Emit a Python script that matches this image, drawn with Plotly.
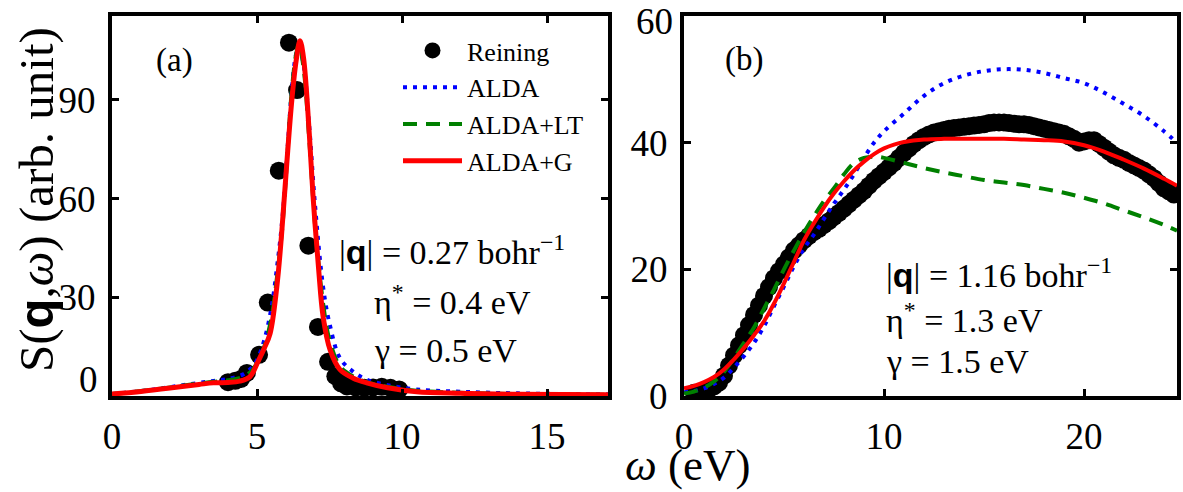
import plotly.graph_objects as go

# ---------------- Panel (a): |q| = 0.27 bohr^-1 ----------------
a_reining_w = [4.0, 4.25, 4.45, 4.65, 5.07, 5.37, 5.75, 6.1, 6.38, 6.77, 7.1, 7.45,
               7.7, 7.9, 8.1, 8.4, 8.7, 9.0, 9.3, 9.6, 9.9]
a_reining_s = [4.2, 4.6, 5.2, 7.0, 12.5, 28.4, 68.5, 107.4, 93.0, 45.7, 21.0, 10.4,
               6.0, 3.8, 2.9, 2.6, 2.5, 2.6, 2.8, 2.5, 2.0]

a_alda_w = [0, 1, 2, 3, 3.5, 4, 4.5, 4.8, 5.0, 5.25, 5.5, 5.7, 5.88, 6.05, 6.2, 6.35,
            6.45, 6.6, 6.8, 7.0, 7.28, 7.5, 7.86, 8.3, 8.78, 9.5, 10.5, 12, 14, 17.1]
a_alda_s = [0.6, 1.5, 2.7, 4.0, 4.6, 5.2, 6.5, 8.5, 11, 17, 27, 40, 54.5, 75, 93, 104,
            106, 101, 82, 58, 33, 22, 11.5, 7.5, 5, 3.3, 2, 1.3, 0.8, 0.5]

a_lt_w = a_alda_w
a_lt_s = [0.6, 1.5, 2.6, 3.8, 4.3, 4.8, 5.8, 7.5, 10, 15, 24, 37, 52, 74, 93, 104,
          107, 100, 78, 52, 28, 17, 9, 6, 4.2, 2.8, 1.6, 1.0, 0.6, 0.4]

a_g_w = [0, 1, 2, 3, 3.5, 4.0, 4.4, 4.76, 5.03, 5.25, 5.45, 5.68, 5.85, 6.02, 6.2,
         6.35, 6.48, 6.6, 6.8, 6.94, 7.12, 7.28, 7.52, 7.86, 8.3, 8.78, 9.5, 10.5,
         12, 14, 17.1]
a_g_s = [0.6, 1.4, 2.4, 3.5, 4.0, 4.1, 4.5, 5.9, 10.4, 14.5, 19, 33, 49.5, 70, 90,
         102, 108, 103, 80, 59.6, 39, 24, 14, 8, 5.5, 4, 2.5, 1.3, 0.8, 0.5, 0.4]

# ---------------- Panel (b): |q| = 1.16 bohr^-1 ----------------
b_reining_w = [0.5, 0.75, 1.0, 1.25, 1.5, 1.75, 2.0, 2.25, 2.5, 2.75, 3.0, 3.25, 3.5,
               3.75, 4.0, 4.25, 4.5, 4.75, 5.0, 5.25, 5.5, 5.75, 6.0, 6.25, 6.5, 6.75,
               7.0, 7.25, 7.5, 7.75, 8.0, 8.25, 8.5, 8.75, 9.0, 9.25, 9.5, 9.75, 10.0,
               10.25, 10.5, 10.75, 11.0, 11.25, 11.5, 11.75, 12.0, 12.25, 12.5, 12.75,
               13.0, 13.25, 13.5, 13.75, 14.0, 14.25, 14.5, 14.75, 15.0, 15.25, 15.5,
               15.75, 16.0, 16.25, 16.5, 16.75, 17.0, 17.25, 17.5, 17.75, 18.0, 18.25,
               18.5, 18.75, 19.0, 19.25, 19.5, 19.75, 20.0, 20.25, 20.5, 20.75, 21.0,
               21.25, 21.5, 21.75, 22.0, 22.25, 22.5, 22.75, 23.0, 23.25, 23.5, 23.75,
               24.0, 24.25, 24.5]
b_reining_s = [0.5, 0.6, 0.8, 1.1, 1.5, 2.1, 3.2, 4.8, 6.4, 8.0, 9.6, 11.2, 12.8,
               14.3, 15.8, 17.2, 18.6, 19.7, 20.8, 21.9, 23.0, 23.8, 24.6, 25.3, 25.9,
               26.4, 27.0, 27.6, 28.3, 28.9, 29.6, 30.3, 31.0, 31.7, 32.4, 33.2, 34.0,
               34.7, 35.4, 36.1, 36.8, 37.6, 38.4, 39.1, 39.8, 40.4, 40.9, 41.3, 41.6,
               41.8, 42.0, 42.2, 42.3, 42.4, 42.5, 42.6, 42.7, 42.8, 42.9, 43.1, 43.2,
               43.2, 43.2, 43.1, 43.0, 42.9, 42.9, 42.8, 42.6, 42.4, 42.2, 42.0, 41.8,
               41.6, 41.4, 41.0, 40.6, 40.0, 40.2, 40.4, 40.4, 39.8, 39.2, 38.6, 38.0,
               37.6, 37.3, 36.8, 36.4, 36.0, 35.6, 35.0, 34.4, 33.6, 32.8, 32.3, 31.8]

b_w = [0, 0.5, 1, 1.5, 2, 2.5, 3, 3.5, 4, 4.5, 5, 5.5, 6, 6.5, 7, 7.5, 8, 8.5, 9,
       9.5, 10, 11, 12, 13, 14, 15, 16, 17, 18, 19, 20, 21, 22, 23, 24, 24.65]
b_alda_s = [0.6, 0.8, 1.2, 1.9, 2.9, 4.5, 6.3, 8.4, 11.0, 14.2, 17.3, 20.5, 23.3,
            25.5, 28.0, 30.4, 32.6, 35.0, 37.6, 40.0, 41.8, 44.6, 47.4, 49.4, 50.6,
            51.3, 51.6, 51.5, 51.0, 50.2, 49.4, 47.9, 46.1, 44.2, 41.8, 40.0]
b_lt_s = [0.4, 0.7, 1.3, 2.3, 3.8, 6.0, 8.4, 10.8, 13.8, 16.8, 20.0, 23.0, 25.8,
          28.4, 30.8, 32.8, 35.0, 36.8, 37.6, 37.8, 37.6, 36.8, 36.0, 35.3, 34.7,
          34.1, 33.7, 33.3, 32.7, 32.1, 31.3, 30.4, 29.3, 28.2, 27.0, 26.1]
b_g_w = [0, 0.5, 1, 1.5, 2, 2.5, 3, 3.5, 4, 4.5, 5, 5.5, 6, 6.5, 7, 7.5, 8, 8.5, 9,
         9.5, 10, 10.5, 11, 12, 13, 14, 15, 16, 17, 18, 19, 20, 21, 22, 23, 24, 24.65]
b_g_s = [1.2, 1.6, 2.2, 3.0, 4.2, 5.8, 7.6, 9.6, 11.8, 14.6, 17.8, 21.2, 24.6, 27.3,
         29.8, 32.0, 33.9, 35.6, 37.0, 38.2, 39.1, 39.7, 40.1, 40.5, 40.6, 40.6, 40.6,
         40.6, 40.5, 40.4, 40.2, 39.6, 38.6, 37.3, 35.9, 34.3, 33.2]

# tick values (the panel (a) "0" and panel (b) "60" labels are placed separately)
a_xticks = [0, 5, 10, 15]
a_yticks = [30, 60, 90]
b_xticks = [0, 10, 20]
b_yticks = [0, 20, 40]

SERIF = "Times New Roman, Liberation Serif, serif"
BLUE, GREEN, RED = "#0000ff", "#008000", "#ff0000"
BLUE_DOT = "4px,6px"
GREEN_DASH = "14px,9px"

fig = go.Figure()

# panel (a)
fig.add_trace(go.Scatter(x=a_reining_w, y=a_reining_s, mode="markers", name="Reining",
                         marker=dict(color="black", size=18), legendgroup="r",
                         xaxis="x", yaxis="y"))
fig.add_trace(go.Scatter(x=a_alda_w, y=a_alda_s, mode="lines", name="ALDA",
                         line=dict(color=BLUE, width=4, dash=BLUE_DOT, shape="spline"),
                         legendgroup="b", xaxis="x", yaxis="y"))
fig.add_trace(go.Scatter(x=a_lt_w, y=a_lt_s, mode="lines", name="ALDA+LT",
                         line=dict(color=GREEN, width=4, dash=GREEN_DASH, shape="spline"),
                         legendgroup="g", xaxis="x", yaxis="y"))
fig.add_trace(go.Scatter(x=a_g_w, y=a_g_s, mode="lines", name="ALDA+G",
                         line=dict(color=RED, width=5, shape="spline"),
                         legendgroup="rd", xaxis="x", yaxis="y"))

# panel (b)
fig.add_trace(go.Scatter(x=b_reining_w, y=b_reining_s, mode="markers", showlegend=False,
                         marker=dict(color="black", size=18), xaxis="x2", yaxis="y2"))
fig.add_trace(go.Scatter(x=b_w, y=b_alda_s, mode="lines", showlegend=False,
                         line=dict(color=BLUE, width=4, dash=BLUE_DOT, shape="spline"),
                         xaxis="x2", yaxis="y2"))
fig.add_trace(go.Scatter(x=b_w, y=b_lt_s, mode="lines", showlegend=False,
                         line=dict(color=GREEN, width=4, dash=GREEN_DASH, shape="spline"),
                         xaxis="x2", yaxis="y2"))
fig.add_trace(go.Scatter(x=b_g_w, y=b_g_s, mode="lines", showlegend=False,
                         line=dict(color=RED, width=4, shape="spline"),
                         xaxis="x2", yaxis="y2"))

TICK_FONT = dict(family=SERIF, size=37, color="black")
axis_common = dict(showline=True, linecolor="black", linewidth=4, mirror="ticks",
                   ticks="inside", ticklen=7, tickwidth=3, tickcolor="black",
                   showgrid=False, zeroline=False, automargin=False,
                   tickfont=TICK_FONT, ticklabelstandoff=5)

W, H = 1183, 492
ML, MR, MT, MB = 112, 6, 16, 96
PW = W - ML - MR
PH = H - MT - MB


def px_x(p):
    return (p - ML) / PW


def px_y(p):
    return (H - MB - p) / PH


fig.update_layout(
    width=W, height=H,
    margin=dict(l=ML, r=MR, t=MT, b=MB, autoexpand=False),
    paper_bgcolor="white", plot_bgcolor="white",
    xaxis=dict(domain=[0, px_x(608)], range=[0, 17.1], tickvals=a_xticks,
               anchor="y", **axis_common),
    yaxis=dict(domain=[0, 1], range=[0, 115.5], tickvals=a_yticks,
               anchor="x", **axis_common),
    xaxis2=dict(domain=[px_x(684), 1], range=[0, 24.65], tickvals=b_xticks,
                anchor="y2", **axis_common),
    yaxis2=dict(domain=[0, 1], range=[0, 60], tickvals=b_yticks,
                anchor="x2", **axis_common),
    showlegend=True,
    legend=dict(x=px_x(398), y=px_y(27), xanchor="left", yanchor="top",
                bgcolor="rgba(0,0,0,0)", tracegroupgap=0, itemwidth=59,
                font=dict(family=SERIF, size=26, color="black")),
)

ann_font = dict(family=SERIF, size=34, color="black")
QB = '|<b style="font-family:Liberation Sans">q</b>|'

annotations = [
    # panel labels
    dict(text="(a)", x=px_x(174), y=px_y(60), font=dict(family=SERIF, size=33, color="black")),
    dict(text="(b)", x=px_x(744), y=px_y(59), font=dict(family=SERIF, size=33, color="black")),
    # panel (a) parameters
    dict(text=QB + " = 0.27 bohr<sup>−1</sup>", x=px_x(452), y=px_y(250)),
    dict(text="η<sup>*</sup> = 0.4 eV", x=px_x(452), y=px_y(300)),
    dict(text="γ = 0.5 eV", x=px_x(445), y=px_y(350)),
    # panel (b) parameters
    dict(text=QB + " = 1.16 bohr<sup>−1</sup>", x=px_x(884), y=px_y(273), xanchor="left"),
    dict(text="η<sup>*</sup> = 1.3 eV", x=px_x(884), y=px_y(318), xanchor="left"),
    dict(text="γ = 1.5 eV", x=px_x(884), y=px_y(361), xanchor="left"),
    # end tick labels placed by hand so they stay clear of neighbours / the page edge
    dict(text="0", x=px_x(88), y=px_y(379), font=TICK_FONT),
    dict(text="60", x=px_x(654), y=px_y(21), font=TICK_FONT),
]
for a in annotations:
    a.setdefault("xref", "paper")
    a.setdefault("yref", "paper")
    a.setdefault("showarrow", False)
    a.setdefault("font", ann_font)
    a.setdefault("xanchor", "center")
    a.setdefault("yanchor", "middle")
    fig.add_annotation(**a)

# axis titles
fig.add_annotation(
    text='S(<b style="font-family:Liberation Sans">q</b>,<i>ω</i>) (arb. unit)',
    x=px_x(37), y=px_y(200), xref="paper", yref="paper", showarrow=False,
    textangle=-90, font=dict(family=SERIF, size=49, color="black"),
    xanchor="center", yanchor="middle")
fig.add_annotation(
    text='<i>ω</i> (eV)',
    x=px_x(688), y=px_y(465), xref="paper", yref="paper", showarrow=False,
    font=dict(family=SERIF, size=45, color="black"),
    xanchor="center", yanchor="middle")

fig.write_html("out.html")
